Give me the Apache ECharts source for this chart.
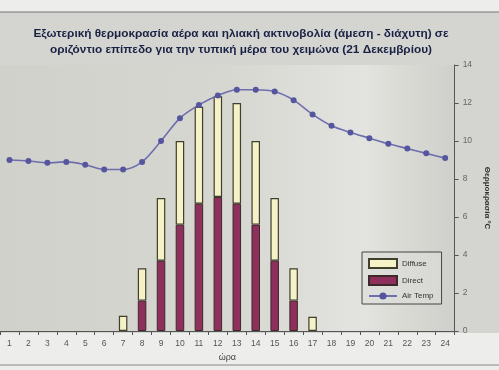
<!DOCTYPE html>
<html><head><meta charset="utf-8">
<script src="https://cdn.jsdelivr.net/npm/echarts@6/dist/echarts.min.js"></script>
<style>html,body{margin:0;padding:0;background:#ededeb}#c{width:499px;height:370px}</style>
</head><body><div id="c"></div>
<script>
const hours = ['1','2','3','4','5','6','7','8','9','10','11','12','13','14','15','16','17','18','19','20','21','22','23','24'];
const direct = [null,null,null,null,null,null,null,1.6,3.7,5.6,6.7,7.05,6.7,5.6,3.7,1.6,null,null,null,null,null,null,null,null];
const diffuse = [null,null,null,null,null,null,0.8,1.7,3.3,4.4,5.1,5.3,5.3,4.4,3.3,1.7,0.75,null,null,null,null,null,null,null];
const airTemp = [9.0,8.95,8.85,8.9,8.75,8.5,8.5,8.9,10.0,11.2,11.9,12.4,12.7,12.7,12.6,12.15,11.4,10.8,10.45,10.15,9.85,9.6,9.35,9.1];
const yTicks = [0,14,2];
const titleLines = ['Εξωτερική θερμοκρασία αέρα και ηλιακή ακτινοβολία (άμεση - διάχυτη) σε','οριζόντιο επίπεδο για την τυπική μέρα του χειμώνα (21 Δεκεμβρίου)'];

const chart = echarts.init(document.getElementById('c'), null, {renderer:'canvas'});
chart.setOption({
  backgroundColor:'#ededeb',
  animation:false,
  graphic:[
    {type:'rect',shape:{x:0,y:12,width:499,height:321},style:{fill:'#d4d4d1'},z:-10},
    {type:'line',shape:{x1:0,y1:12,x2:499,y2:12},style:{stroke:'#777',lineWidth:1},z:-9},
    {type:'line',shape:{x1:0,y1:365,x2:499,y2:365},style:{stroke:'#888',lineWidth:1},z:-9}
  ],
  title:{
    text:titleLines.join('\n'),
    left:236, top:21, textAlign:'center',
    textStyle:{fontFamily:'Liberation Sans',fontSize:11.8,fontWeight:'bold',color:'#1a2244',lineHeight:16}
  },
  grid:{left:0,right:36,top:65,bottom:39,show:true,borderWidth:0,
    backgroundColor:{type:'linear',x:0,y:0,x2:1,y2:0,colorStops:[
      {offset:0,color:'#d0d1cb'},{offset:0.5,color:'#d6d7d1'},{offset:0.8,color:'#e3e4df'},{offset:0.88,color:'#dadbd5'},{offset:1,color:'#cfd0cb'}]}},
  legend:{
    data:[{name:'Diffuse',icon:'rect'},{name:'Direct',icon:'rect'},{name:'Air Temp'}],
    orient:'vertical', left:362, top:252, width:80,
    itemWidth:28, itemHeight:9, itemGap:6,
    padding:[6,8,4,6],
    borderColor:'#444', borderWidth:1, backgroundColor:'rgba(220,221,216,0.6)',
    textStyle:{fontFamily:'Liberation Sans',fontSize:8,color:'#333'}
  },
  xAxis:{
    type:'category', data:hours, boundaryGap:true,
    name:'ώρα', nameLocation:'middle', nameGap:21,
    nameTextStyle:{fontFamily:'Liberation Sans',fontSize:9,color:'#444'},
    axisLine:{lineStyle:{color:'#555',width:1}},
    axisTick:{show:true,length:4,lineStyle:{color:'#555'}},
    axisLabel:{fontFamily:'Liberation Sans',fontSize:8.5,color:'#555',margin:8}
  },
  yAxis:{
    type:'value', position:'right', min:yTicks[0], max:yTicks[1], interval:yTicks[2],
    name:'Θερμοκρασία ºC', nameLocation:'middle', nameGap:24, nameRotate:-90,
    nameTextStyle:{fontFamily:'Liberation Sans',fontSize:8,fontWeight:'bold',color:'#333'},
    axisLine:{show:true,lineStyle:{color:'#555',width:1}},
    axisTick:{show:true,length:4,lineStyle:{color:'#555'}},
    axisLabel:{fontFamily:'Liberation Sans',fontSize:8.5,color:'#666',margin:8},
    splitLine:{show:false}
  },
  series:[
    {name:'Direct',type:'bar',stack:'r',data:direct,barWidth:'45%',
      itemStyle:{color:'#8e2f5c',borderColor:'#3c2a2a',borderWidth:1}},
    {name:'Diffuse',type:'bar',stack:'r',data:diffuse,barWidth:'45%',
      itemStyle:{color:'#f5f2c8',borderColor:'#3f3f2c',borderWidth:1.2}},
    {name:'Air Temp',type:'line',data:airTemp,smooth:0.3,
      symbol:'circle',symbolSize:6,
      lineStyle:{color:'#6e6eae',width:1.6},
      itemStyle:{color:'#56569e',borderWidth:0},z:5}
  ]
});
</script></body></html>
